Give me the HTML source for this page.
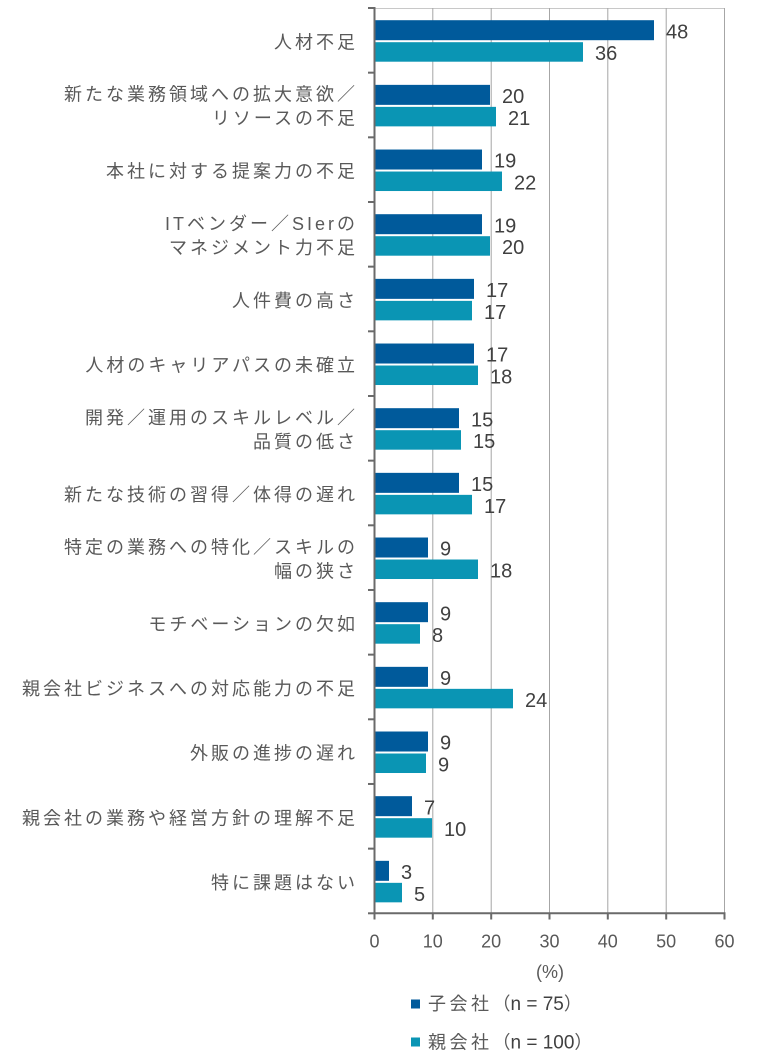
<!DOCTYPE html>
<html><head><meta charset="utf-8"><style>
html,body{margin:0;padding:0;background:#fff;}
svg{display:block;}
.cat{font-family:"Liberation Sans","Noto Sans CJK JP",sans-serif;font-size:18px;fill:#595959;letter-spacing:3px;}
.val{font-family:"Liberation Sans",sans-serif;font-size:20px;fill:#404040;}
.tick{font-family:"Liberation Sans",sans-serif;font-size:18px;fill:#595959;}
.leg{font-family:"Liberation Sans","Noto Sans CJK JP",sans-serif;font-size:18px;fill:#595959;}
</style></head><body>
<svg width="761" height="1061" viewBox="0 0 761 1061" xmlns="http://www.w3.org/2000/svg">
<g id="grid" stroke="#a6a6a6" stroke-width="1">
<line x1="374.5" y1="8.5" x2="724.5" y2="8.5" stroke="#c8c8c8"/>
<line x1="432.8" y1="8" x2="432.8" y2="913"/>
<line x1="491.2" y1="8" x2="491.2" y2="913"/>
<line x1="549.5" y1="8" x2="549.5" y2="913"/>
<line x1="607.8" y1="8" x2="607.8" y2="913"/>
<line x1="666.2" y1="8" x2="666.2" y2="913"/>
<line x1="724.5" y1="8" x2="724.5" y2="913"/>
</g>
<g id="bars"></g>
<g id="axes" stroke="#6a6a6a" stroke-width="2">
<line x1="374.5" y1="7" x2="374.5" y2="914"/>
<line x1="373.5" y1="913.3" x2="725.5" y2="913.3"/>
</g>
<g id="ticks" stroke="#6a6a6a" stroke-width="2"></g>
<g id="labels"></g>
<g class="tick" text-anchor="middle">
<text x="374.5" y="947.5">0</text>
<text x="432.8" y="947.5">10</text>
<text x="491.2" y="947.5">20</text>
<text x="549.5" y="947.5">30</text>
<text x="607.8" y="947.5">40</text>
<text x="666.2" y="947.5">50</text>
<text x="724.5" y="947.5">60</text>
<text x="550" y="978">(%)</text>
</g>
<rect x="411" y="999.5" width="9" height="9" fill="#005a9b"/>
<rect x="411" y="1037.5" width="9" height="9" fill="#0a95b4"/>
<text class="leg" x="428" y="1010"><tspan style="letter-spacing:3.5px">子会社</tspan><tspan>（</tspan><tspan fill="#404040" style="font-size:19px">n = 75</tspan><tspan>）</tspan></text>
<text class="leg" x="428" y="1048.5"><tspan style="letter-spacing:3.5px">親会社</tspan><tspan>（</tspan><tspan fill="#404040" style="font-size:19px">n = 100</tspan><tspan>）</tspan></text>
</svg>
<script>
(function(){
var NS="http://www.w3.org/2000/svg";
var cats=[["人材不足"],["新たな業務領域への拡大意欲／","リソースの不足"],["本社に対する提案力の不足"],["ITベンダー／SIerの","マネジメント力不足"],["人件費の高さ"],["人材のキャリアパスの未確立"],["開発／運用のスキルレベル／","品質の低さ"],["新たな技術の習得／体得の遅れ"],["特定の業務への特化／スキルの","幅の狭さ"],["モチベーションの欠如"],["親会社ビジネスへの対応能力の不足"],["外販の進捗の遅れ"],["親会社の業務や経営方針の理解不足"],["特に課題はない"]];
var vals=[[48,36],[20,21],[19,22],[19,20],[17,17],[17,18],[15,15],[15,17],[9,18],[9,8],[9,24],[9,9],[7,10],[3,5]];
var ends=[[654,583],[490,496],[482,502],[482,490],[474,472],[474,478],[459,461],[459,472],[428,478],[428,420],[428,513],[428,426],[412,432],[389,402]];
var bars=document.getElementById("bars"),labels=document.getElementById("labels"),ticks=document.getElementById("ticks");
var band=(913.3-8)/14;
function el(n,a,p,t){var e=document.createElementNS(NS,n);for(var k in a)e.setAttribute(k,a[k]);if(t!==undefined)e.textContent=t;p.appendChild(e);return e;}
for(var i=0;i<=14;i++){var y=8+band*i;el("line",{x1:368,y1:y,x2:374.5,y2:y},ticks);}
[374.5,432.8,491.2,549.5,607.8,666.2,724.5].forEach(function(x){el("line",{x1:x,y1:913,x2:x,y2:919.5},ticks);});
for(var i=0;i<14;i++){
 var s=8+band*i,c=s+band/2;
 el("rect",{x:375,y:s+12.2,width:ends[i][0]-375,height:20,fill:"#005a9b"},bars);
 el("rect",{x:375,y:s+34.2,width:ends[i][1]-375,height:19.5,fill:"#0a95b4"},bars);
 el("text",{"class":"val",x:ends[i][0]+12,y:s+22.2+1+7.2},labels,String(vals[i][0]));
 el("text",{"class":"val",x:ends[i][1]+12,y:s+44+1+7.2},labels,String(vals[i][1]));
 var L=cats[i];
 if(L.length==1){el("text",{"class":"cat",x:358,y:c+8,"text-anchor":"end"},labels,L[0]);}
 else{el("text",{"class":"cat",x:358,y:c-4.3,"text-anchor":"end"},labels,L[0]);
      el("text",{"class":"cat",x:358,y:c+19.7,"text-anchor":"end"},labels,L[1]);}
}
})();
</script>
</body></html>
